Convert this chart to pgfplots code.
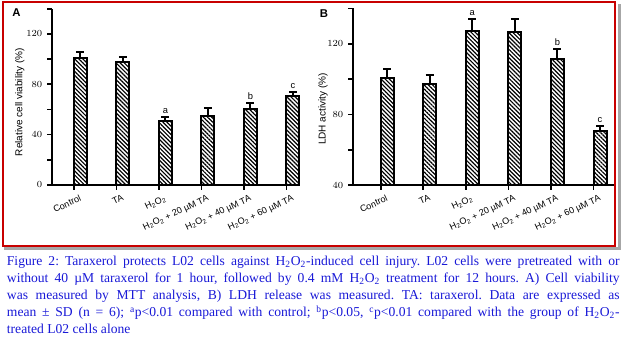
\documentclass[border=0pt]{standalone}
\usepackage{fontspec}
\setmainfont{Liberation Serif}
\setsansfont{Liberation Sans}
\usepackage{pgfplots}
\pgfplotsset{compat=1.18}
\usetikzlibrary{patterns,patterns.meta}
\definecolor{framered}{RGB}{200,0,0}
\definecolor{capblue}{RGB}{25,25,215}
\pgfplotstableread{
x y e
0 101 5
1 97.5 4.5
2 51 3
3 54.5 6.5
4 60.5 4.5
5 71 2.5
}\dataA
\pgfplotstableread{
x y e
0 100.4 5.4
1 97.3 5
2 127.2 7
3 126.8 7.2
4 111.3 5.8
5 70.7 2.5
}\dataB
\newcommand{\HO}{H\textsubscript{2}O\textsubscript{2}}
\tikzset{lbl/.style={font=\sffamily\fontsize{7}{8}\selectfont, anchor=south, inner sep=0pt, yshift=2.5pt}}
\pgfplotsset{
  panel/.style={
    scale only axis, clip=false,
    axis x line=bottom, axis y line=left,
    axis line style={line width=1.6pt,-},
    tick align=outside,
    major tick length=3.75pt, minor tick length=3.75pt,
    every tick/.style={line width=1.3pt,black},
    xtick={-0.15,0.85,1.85,2.85,3.85,4.85},
    xticklabels={Control,TA,\HO,\HO{} + 20 µM TA,\HO{} + 40 µM TA,\HO{} + 60 µM TA},
    x tick label style={rotate=25, anchor=north east, inner sep=1pt,
      font=\sffamily\fontsize{6.8}{7}\selectfont, xshift=3pt, yshift=-3.5pt},
    y tick label style={font=\sffamily\fontsize{6.8}{7}\selectfont},
    ylabel style={font=\sffamily\fontsize{7.5}{8}\selectfont, anchor=center},
  },
  bars/.style={ybar, bar width=9.75pt, draw=black, line width=1.5pt,
    pattern={Lines[angle=-45,distance=2.2pt,line width=0.9pt]}, pattern color=black,
    error bars/.cd, y dir=plus, y explicit,
    error bar style={line width=1.5pt,black},
    error mark options={rotate=90, mark size=3pt, line width=1.5pt, black}},
}
\begin{document}
\frenchspacing
\begin{tikzpicture}
\path[use as bounding box] (0,0) rectangle (468pt,255.75pt);
% frame shadow and frame
\fill[black!35] (463.5pt,68.25pt) rectangle (465.75pt,252.75pt);
\fill[black!35] (3pt,68.25pt) rectangle (465.75pt,70.5pt);
\draw[framered, line width=1.5pt] (1.9pt,71.6pt) rectangle (461.25pt,254.25pt);
% Panel A
\begin{axis}[panel, at={(39pt,117pt)}, anchor=south west,
  width=185.5pt, height=132.2pt,
  xmin=-0.67, xmax=5.15, ymin=0, ymax=140,
  ytick={0,40,80,120}, minor ytick={20,60,100,140},
  ylabel={Relative cell viability (\%)},
  ylabel style={at={(axis description cs:-0.13,0.47)}},
]
\addplot[bars] table[x=x,y=y,y error=e]{\dataA};
\node[lbl] at (axis cs:2,54) {a};
\node[lbl] at (axis cs:4,65) {b};
\node[lbl] at (axis cs:5,73.5) {c};
\end{axis}
% Panel B
\begin{axis}[panel, at={(264.75pt,117pt)}, anchor=south west,
  width=195.8pt, height=132.4pt,
  xmin=-0.8, xmax=5.33, ymin=40, ymax=140,
  ytick={40,80,120}, minor ytick={60,100,140},
  ylabel={LDH activity (\%)},
  ylabel style={at={(axis description cs:-0.115,0.43)}},
]
\addplot[bars] table[x=x,y=y,y error=e]{\dataB};
\node[lbl] at (axis cs:2,134.2) {a};
\node[lbl] at (axis cs:4,117.1) {b};
\node[lbl] at (axis cs:5,73.2) {c};
\end{axis}
\node[font=\sffamily\bfseries\fontsize{8.5}{9}\selectfont] at (12.4pt,246pt) {A};
\node[font=\sffamily\bfseries\fontsize{8.5}{9}\selectfont] at (243pt,245.6pt) {B};
% caption
\begin{scope}[every node/.style={anchor=base west, inner sep=0pt, text=capblue, font=\fontsize{10.2}{11}\selectfont}]
\node at (5pt,56.25pt) {\makebox[459.5pt][s]{Figure 2: Taraxerol protects L02 cells against \HO-induced cell injury. L02 cells were pretreated with or}};
\node at (5pt,43.5pt) {\makebox[459.5pt][s]{without 40 µM taraxerol for 1 hour, followed by 0.4 mM \HO{} treatment for 12 hours. A) Cell viability}};
\node at (5pt,30.75pt) {\makebox[459.5pt][s]{was measured by MTT analysis, B) LDH release was measured. TA: taraxerol. Data are expressed as}};
\node at (5pt,18pt) {\makebox[459.5pt][s]{mean ± SD (n = 6); \textsuperscript{a}p<0.01 compared with control; \textsuperscript{b}p<0.05, \textsuperscript{c}p<0.01 compared with the group of \HO-}};
\node at (5pt,5.25pt) {treated L02 cells alone};
\end{scope}
\end{tikzpicture}
\end{document}
